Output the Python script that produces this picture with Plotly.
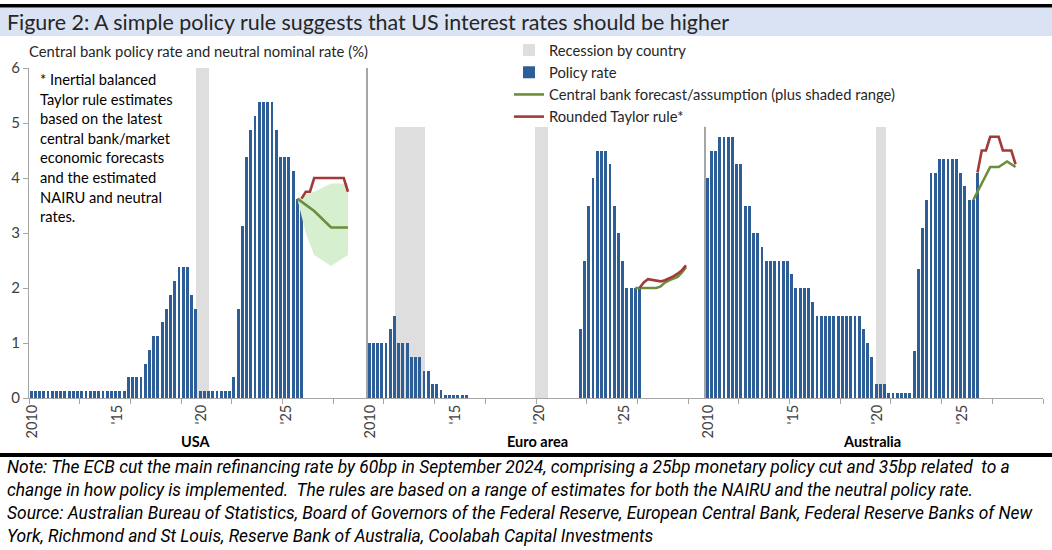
import plotly.graph_objects as go

# ---------------- data ----------------
panels = ["USA", "Euro area", "Australia"]
first_year = 2010

# quarterly policy rates, 2010Q1 .. 2026Q1
usa_policy = [
    0.125, 0.125, 0.125, 0.125,   # 2010
    0.125, 0.125, 0.125, 0.125,   # 2011
    0.125, 0.125, 0.125, 0.125,   # 2012
    0.125, 0.125, 0.125, 0.125,   # 2013
    0.125, 0.125, 0.125, 0.125,   # 2014
    0.125, 0.125, 0.125, 0.375,   # 2015
    0.375, 0.375, 0.375, 0.625,   # 2016
    0.875, 1.125, 1.125, 1.375,   # 2017
    1.625, 1.875, 2.125, 2.375,   # 2018
    2.375, 2.375, 1.875, 1.625,   # 2019
    0.125, 0.125, 0.125, 0.125,   # 2020
    0.125, 0.125, 0.125, 0.125,   # 2021
    0.375, 1.625, 3.125, 4.375,   # 2022
    4.875, 5.125, 5.375, 5.375,   # 2023
    5.375, 5.375, 4.875, 4.375,   # 2024
    4.375, 4.375, 4.125, 3.625,   # 2025
    3.625,                        # 2026Q1
]
euro_policy = [
    1.0, 1.0, 1.0, 1.0,           # 2010
    1.0, 1.25, 1.5, 1.0,          # 2011
    1.0, 1.0, 0.75, 0.75,         # 2012
    0.75, 0.5, 0.5, 0.25,         # 2013
    0.25, 0.15, 0.05, 0.05,       # 2014
    0.05, 0.05, 0.05, 0.05,       # 2015
    0.0, 0.0, 0.0, 0.0,           # 2016
    0.0, 0.0, 0.0, 0.0,           # 2017
    0.0, 0.0, 0.0, 0.0,           # 2018
    0.0, 0.0, 0.0, 0.0,           # 2019
    0.0, 0.0, 0.0, 0.0,           # 2020
    0.0, 0.0, 0.0, 0.0,           # 2021
    0.0, 0.0, 1.25, 2.5,          # 2022
    3.5, 4.0, 4.5, 4.5,           # 2023
    4.5, 4.25, 3.5, 3.0,          # 2024
    2.5, 2.0, 2.0, 2.0,           # 2025
    2.0,                          # 2026Q1
]
aus_policy = [
    4.0, 4.5, 4.5, 4.75,          # 2010
    4.75, 4.75, 4.75, 4.25,       # 2011
    4.25, 3.5, 3.5, 3.0,          # 2012
    3.0, 2.75, 2.5, 2.5,          # 2013
    2.5, 2.5, 2.5, 2.5,           # 2014
    2.25, 2.0, 2.0, 2.0,          # 2015
    2.0, 1.75, 1.5, 1.5,          # 2016
    1.5, 1.5, 1.5, 1.5,           # 2017
    1.5, 1.5, 1.5, 1.5,           # 2018
    1.5, 1.25, 1.0, 0.75,         # 2019
    0.25, 0.25, 0.25, 0.1,        # 2020
    0.1, 0.1, 0.1, 0.1,           # 2021
    0.1, 0.85, 2.35, 3.1,         # 2022
    3.6, 4.1, 4.1, 4.35,          # 2023
    4.35, 4.35, 4.35, 4.35,       # 2024
    4.1, 3.85, 3.6, 3.6,          # 2025
    4.1,                          # 2026Q1
]

# central bank forecasts / assumptions
usa_fc_q = ["2025Q4", "2026Q4", "2027Q4", "2028Q4"]
usa_fc = [3.625, 3.4, 3.1, 3.1]
usa_band_q = ["2025Q4", "2026Q2", "2026Q4", "2027Q4", "2028Q4"]
usa_band_hi = [3.625, 3.7, 3.75, 3.9, 3.9]
usa_band_lo = [3.625, 3.0, 2.6, 2.4, 2.6]

euro_fc_q = ["2025Q4", "2026Q1", "2026Q2", "2026Q3", "2026Q4", "2027Q1", "2027Q2",
             "2027Q3", "2027Q4", "2028Q1", "2028Q2", "2028Q3", "2028Q4"]
euro_fc = [2.0, 2.0, 2.0, 2.0, 2.0, 2.0, 2.03, 2.1, 2.14, 2.17, 2.2, 2.28, 2.38]

aus_fc_q = ["2025Q4", "2026Q4", "2027Q2", "2027Q4", "2028Q2"]
aus_fc = [3.6, 4.2, 4.2, 4.3, 4.2]

# rounded Taylor rule
usa_tr_q = ["2026Q1", "2026Q2", "2026Q3", "2026Q4", "2027Q1", "2027Q2", "2027Q3",
            "2027Q4", "2028Q1", "2028Q2", "2028Q3", "2028Q4"]
usa_tr = [3.625, 3.75, 3.75, 4.0, 4.0, 4.0, 4.0, 4.0, 4.0, 4.0, 4.0, 3.75]
euro_tr_q = usa_tr_q
euro_tr = [2.0, 2.1, 2.16, 2.15, 2.13, 2.12, 2.14, 2.17, 2.21, 2.26, 2.32, 2.41]
aus_tr_q = ["2026Q1", "2026Q2", "2026Q3", "2026Q4", "2027Q1", "2027Q2", "2027Q3",
            "2027Q4", "2028Q1", "2028Q2"]
aus_tr = [4.1, 4.5, 4.5, 4.75, 4.75, 4.75, 4.5, 4.5, 4.5, 4.25]

# recessions (decimal years) and shading height
rec_panel = ["USA", "Euro area", "Euro area", "Australia"]
rec_start = [2019.88, 2011.66, 2019.94, 2020.12]
rec_end = [2020.65, 2013.43, 2020.71, 2020.72]
rec_top = [6.0, 4.93, 4.93, 4.93]

# panel separator lines
sep_panel = ["Euro area", "Australia"]
sep_top = [6.0, 4.93]

tick_labels = ["2010", "'15", "'20", "'25"]
tick_years = [2010, 2015, 2020, 2025]
minor_tick_step_years = 3

# ---------------- helpers ----------------
PANEL_SPAN = 20.0
def panel_off(p):
    return panels.index(p) * PANEL_SPAN

def qpos(p, qstr):
    y = int(qstr[:4]); q = int(qstr[5])
    return panel_off(p) + (y - first_year) + (q - 1) / 4 + 0.125

def join(parts):
    xs, ys = [], []
    for i, (x, y) in enumerate(parts):
        if i:
            xs.append(None); ys.append(None)
        xs += list(x); ys += list(y)
    return xs, ys

W, H = 1052, 550
L, R, T, B = 29, 9, 68, 152
PW, PH = W - L - R, H - T - B
def px_x(px): return (px - L) / PW
def px_y(py): return (H - B - py) / PH

BLUE = "#2E5E98"
GREEN = "#6B8E3D"
RED = "#A23A3A"
GREY = "#A6A6A6"
TXT = "#262626"
FONT = "Lato"

fig = go.Figure()

# recession shading
rec_x = [panel_off(p) + ((s + e) / 2 - first_year) for p, s, e in zip(rec_panel, rec_start, rec_end)]
rec_w = [e - s for s, e in zip(rec_start, rec_end)]
fig.add_trace(go.Bar(x=rec_x, y=rec_top, width=rec_w, base=0, name="Recession by country",
                     marker=dict(color="#DEDEDE", line=dict(width=0)), legendrank=1,
                     hoverinfo="skip"))

# shaded range (USA)
bx = [qpos("USA", q) for q in usa_band_q]
fig.add_trace(go.Scatter(x=bx + bx[::-1], y=usa_band_hi + usa_band_lo[::-1], fill="toself",
                         fillcolor="#D6EFCE", line=dict(width=0), mode="lines",
                         showlegend=False, hoverinfo="skip"))

# policy rate bars
pol_x, pol_y = [], []
for p, vals in zip(panels, [usa_policy, euro_policy, aus_policy]):
    for i, v in enumerate(vals):
        pol_x.append(panel_off(p) + i / 4 + 0.125)
        pol_y.append(v)
fig.add_trace(go.Bar(x=pol_x, y=pol_y, width=0.17, name="Policy rate",
                     marker=dict(color=BLUE, line=dict(width=0)), legendrank=2))

# forecast lines
gx, gy = join([([qpos("USA", q) for q in usa_fc_q], usa_fc),
               ([qpos("Euro area", q) for q in euro_fc_q], euro_fc),
               ([qpos("Australia", q) for q in aus_fc_q], aus_fc)])
fig.add_trace(go.Scatter(x=gx, y=gy, mode="lines", name="Central bank forecast/assumption (plus shaded range)",
                         line=dict(color=GREEN, width=2.6), legendrank=3))
rx, ry = join([([qpos("USA", q) for q in usa_tr_q], usa_tr),
               ([qpos("Euro area", q) for q in euro_tr_q], euro_tr),
               ([qpos("Australia", q) for q in aus_tr_q], aus_tr)])
fig.add_trace(go.Scatter(x=rx, y=ry, mode="lines", name="Rounded Taylor rule*",
                         line=dict(color=RED, width=2.6), legendrank=4))

# separators
sx, sy = join([([panel_off(p), panel_off(p)], [0, t]) for p, t in zip(sep_panel, sep_top)])
fig.add_trace(go.Scatter(x=sx, y=sy, mode="lines", xaxis="x2", line=dict(color=GREY, width=2),
                         showlegend=False, hoverinfo="skip"))

# axes
tv, tt = [], []
for p in panels:
    for y, lab in zip(tick_years, tick_labels):
        tv.append(panel_off(p) + (y - first_year) + 0.22)
        tt.append(lab)
minor_vals = [k * minor_tick_step_years for k in range(int(3 * PANEL_SPAN / minor_tick_step_years) + 1)]

fig.update_layout(
    width=W, height=H, autosize=False,
    margin=dict(l=L, r=R, t=T, b=B, autoexpand=False),
    paper_bgcolor="white", plot_bgcolor="white",
    barmode="overlay", bargap=0,
    font=dict(family=FONT, color=TXT, size=14),
    xaxis=dict(range=[0, 3 * PANEL_SPAN], tickvals=tv, ticktext=tt, tickangle=-90, ticks="",
               showline=True, linecolor=GREY, linewidth=1, showgrid=False, zeroline=False,
               automargin=False,
               tickfont=dict(size=14.5, color="#404040", family=FONT)),
    xaxis2=dict(range=[0, 3 * PANEL_SPAN], overlaying="x", anchor="y", side="bottom",
                tickvals=minor_vals, ticks="outside", ticklen=5, tickcolor=GREY,
                showticklabels=False, showgrid=False, zeroline=False, showline=False),
    yaxis=dict(range=[0, 6], tickvals=[0, 1, 2, 3, 4, 5, 6], ticks="outside", ticklen=5,
               tickcolor=GREY, showline=True, linecolor=GREY, linewidth=1, showgrid=False,
               zeroline=False, automargin=False,
               tickfont=dict(size=15, color="#404040", family=FONT)),
    legend=dict(x=px_x(509), y=px_y(34), xanchor="left", yanchor="top",
                bgcolor="rgba(0,0,0,0)", font=dict(size=14.75, color=TXT, family=FONT),
                itemwidth=30, tracegroupgap=0, traceorder="normal"),
    showlegend=True,
)

shapes = [
    dict(type="rect", xref="paper", yref="paper", x0=px_x(0), x1=px_x(W), y0=px_y(36), y1=px_y(7.5),
         fillcolor="#DAE3F3", line=dict(width=0), layer="below"),
    dict(type="rect", xref="paper", yref="paper", x0=px_x(0), x1=px_x(W), y0=px_y(7.5), y1=px_y(4),
         fillcolor="black", line=dict(width=0)),
    dict(type="rect", xref="paper", yref="paper", x0=px_x(0), x1=px_x(W), y0=px_y(457), y1=px_y(453),
         fillcolor="black", line=dict(width=0)),
]
fig.update_layout(shapes=shapes)

ann = []
ann.append(dict(text="Figure 2: A simple policy rule suggests that US interest rates should be higher",
                x=px_x(5), y=px_y(22), xref="paper", yref="paper", xanchor="left", yanchor="middle",
                showarrow=False, font=dict(size=21.45, color=TXT, family=FONT)))
ann.append(dict(text="Central bank policy rate and neutral nominal rate (%)",
                x=px_x(27), y=px_y(51), xref="paper", yref="paper", xanchor="left", yanchor="middle",
                showarrow=False, font=dict(size=14.8, color=TXT, family=FONT)))
note_lines = ["* Inertial balanced", "Taylor rule estimates", "based on the latest",
              "central bank/market", "economic forecasts", "and the estimated",
              "NAIRU and neutral", "rates."]
for i, s in enumerate(note_lines):
    ann.append(dict(text=s, x=px_x(38), y=px_y(79 + i * 19.6), xref="paper", yref="paper",
                    xanchor="left", yanchor="middle", showarrow=False,
                    font=dict(size=14.7, color="black", family=FONT)))
for p, cx in zip(panels, [196, 537, 872]):
    ann.append(dict(text="<b>%s</b>" % p, x=px_x(cx), y=px_y(441), xref="paper", yref="paper",
                    xanchor="center", yanchor="middle", showarrow=False,
                    font=dict(size=14.5, color="black", family=FONT)))
foot = [
    "Note: The ECB cut the main refinancing rate by 60bp in September 2024, comprising a 25bp monetary policy cut and 35bp related  to a",
    "change in how policy is implemented.  The rules are based on a range of estimates for both the NAIRU and the neutral policy rate.",
    "Source: Australian Bureau of Statistics, Board of Governors of the Federal Reserve, European Central Bank, Federal Reserve Banks of New",
    "York, Richmond and St Louis, Reserve Bank of Australia, Coolabah Capital Investments",
]
for i, s in enumerate(foot):
    ann.append(dict(text="<i>%s</i>" % s, x=px_x(5), y=px_y(467 + i * 23), xref="paper", yref="paper",
                    xanchor="left", yanchor="middle", showarrow=False,
                    font=dict(size=17.4, color="black", family="Roboto")))
fig.update_layout(annotations=ann)

fig.write_html("out.html", config={"displayModeBar": False},
               post_script="document.body.style.margin='0';document.body.style.padding='0';")
